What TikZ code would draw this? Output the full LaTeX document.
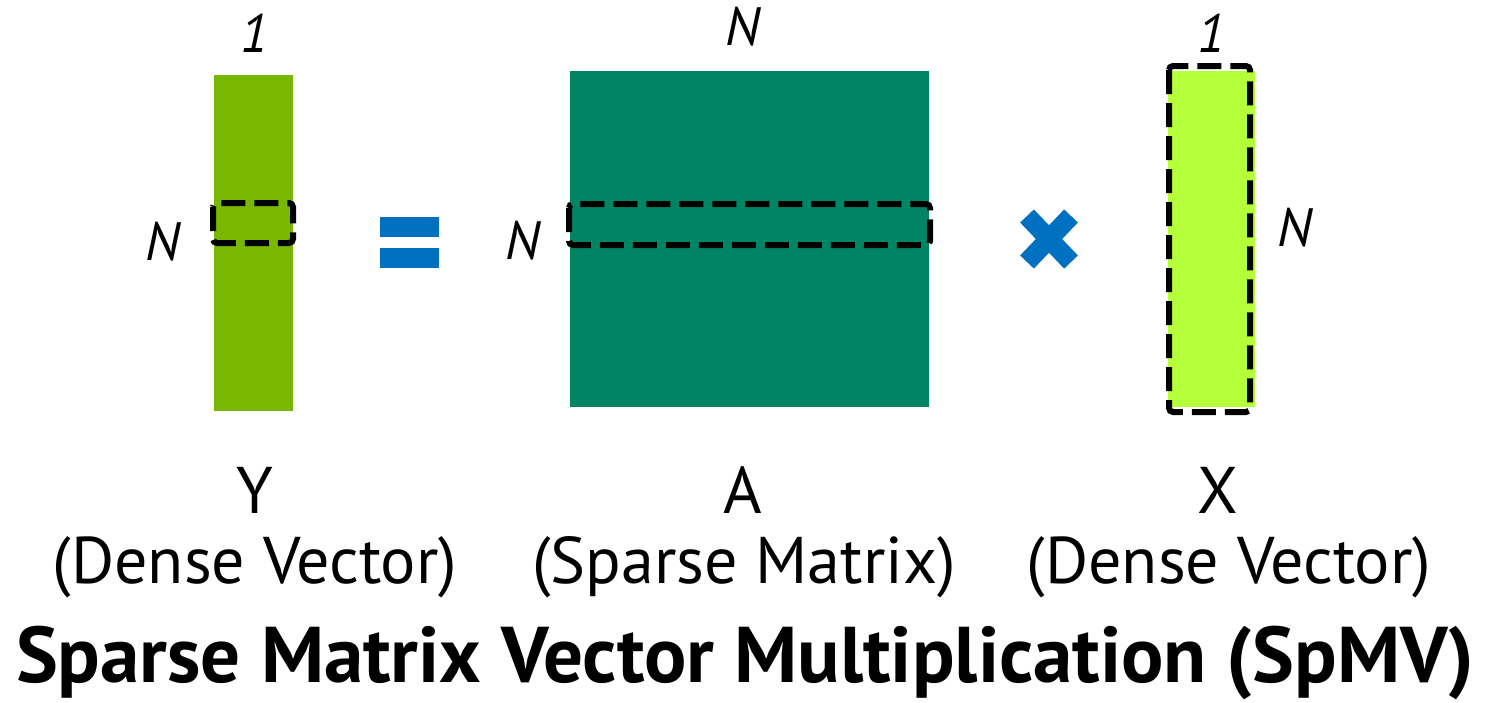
\documentclass[tikz,border=0pt]{standalone}
\usepackage{fontspec}
\setmainfont{PT Sans}
\definecolor{ygreen}{HTML}{78B800}
\definecolor{agreen}{HTML}{008564}
\definecolor{xgreen}{HTML}{B5FF3A}
\definecolor{opblue}{HTML}{0070C0}
\tikzset{
  dashbox/.style={draw=black, line width=6pt, dash pattern=on 24pt off 9pt, rounded corners=4pt},
  dimlabel/.style={font=\fontsize{54}{54}\selectfont\itshape, inner sep=0pt},
  namelabel/.style={font=\fontsize{66}{66}\selectfont, inner sep=0pt},
  titlelabel/.style={font=\fontsize{79}{79}\selectfont\bfseries, inner sep=0pt}
}
\begin{document}
\begin{tikzpicture}[x=1pt,y=-1pt]
\useasboundingbox (0,0) rectangle (1487,702);
% Y vector
\fill[ygreen] (214,75) rectangle (293,411);
\draw[dashbox] (213,203) rectangle (293,243);
\node[dimlabel] (y1) at (255,33) {1};
\node[dimlabel] (yN) at (163,242) {N};
% equals
\fill[opblue] (380,217) rectangle (439,237);
\fill[opblue] (380,248) rectangle (439,268);
% A matrix
\fill[agreen] (570,71) rectangle (929,407);
\draw[dashbox] (569,204) rectangle (930,245);
\node[dimlabel] (aN) at (743,27) {N};
\node[dimlabel] (aNl) at (523,241) {N};
% times
\draw[opblue, line width=19pt] (1027,216) -- (1071,262);
\draw[opblue, line width=19pt] (1071,216) -- (1027,262);
% X vector
\fill[xgreen] (1168,71) rectangle (1255,407);
\draw[dashbox] (1169,66) rectangle (1250,412);
\node[dimlabel] (x1) at (1212,33) {1};
\node[dimlabel] (xN) at (1295,228) {N};
% names
\node[namelabel, anchor=base] (yname) at (255,513) {Y};
\node[namelabel, anchor=base] (ydesc) at (255,583) {(Dense Vector)};
\node[namelabel, anchor=base] (aname) at (743,513) {A};
\node[namelabel, anchor=base] (adesc) at (744,583) {(Sparse Matrix)};
\node[namelabel, anchor=base] (xname) at (1218,513) {X};
\node[namelabel, anchor=base] (xdesc) at (1229,583) {(Dense Vector)};
\node[titlelabel, anchor=base] (title) at (745,682) {Sparse Matrix Vector Multiplication (SpMV)};
\end{tikzpicture}
\end{document}
